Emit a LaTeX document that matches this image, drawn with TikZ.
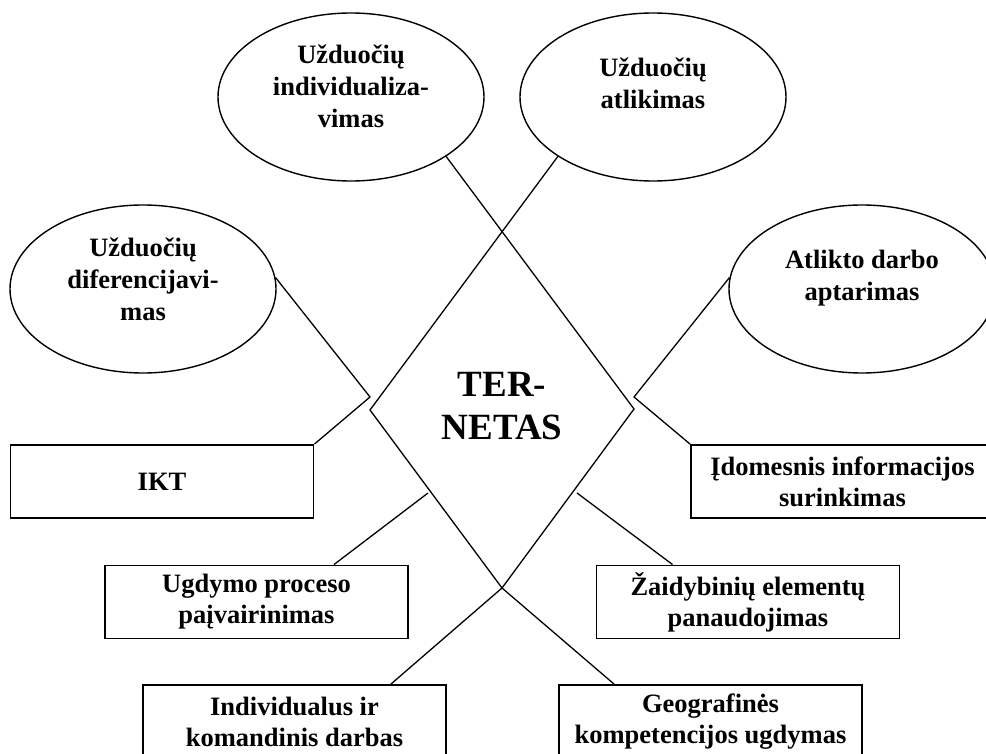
\documentclass[tikz,border=0pt]{standalone}
\usepackage{fontspec}
\setmainfont{Liberation Serif}
\usepackage{tikz}
\usetikzlibrary{shapes,positioning,calc}

\tikzset{
  bubble/.style={draw, ellipse, line width=1.4pt, minimum width=266pt, minimum height=168pt, inner sep=0pt},
  bubbletext/.style={align=center, inner sep=0pt, font=\fontsize{26.5}{32}\selectfont\bfseries},
  factbox/.style={draw, rectangle, line width=1.8pt, minimum width=303pt, minimum height=73pt, inner sep=0pt, align=center, font=\fontsize{26.5}{31}\selectfont\bfseries},
  link/.style={line width=1.3pt},
}

\begin{document}
\begin{tikzpicture}[x=1pt, y=-1pt]
    \clip (0,0) rectangle (986,754);
    % ovals
    \node[bubble] (ind) at (351,97) {};
    \node[bubble] (atl) at (653,97) {};
    \node[bubble] (dif) at (143,289) {};
    \node[bubble] (apt) at (862,289) {};
    \node[bubbletext] (indtxt) at (351,86) {Užduočių\\individualiza-\\vimas};
    \node[bubbletext] (atltxt) at (653,83) {Užduočių\\atlikimas};
    \node[bubbletext] (diftxt) at (143,279) {Užduočių\\diferencijavi-\\mas};
    \node[bubbletext] (apttxt) at (862,278) {Atlikto darbo\\aptarimas};
    % centre
    \node[inner sep=0pt, align=center, font=\fontsize{37}{43}\selectfont\bfseries] (tern) at (502,406) {TER-\\NETAS};
    % boxes
    \node[factbox] (ikt) at (162,481.5) {IKT};
    \node[factbox] (ugd) at (256.5,602) {Ugdymo proceso\\paįvairinimas};
    \node[factbox] (indiv) at (294.5,721.5) {Individualus ir\\komandinis darbas};
    \node[factbox] (idom) at (842.5,481.5) {Įdomesnis informacijos\\surinkimas};
    \node[factbox] (zai) at (748,602) {Žaidybinių elementų\\panaudojimas};
    \node[factbox] (geo) at (710.5,721.5) {Geografinės\\kompetencijos ugdymas};
    % corners of the rhomb
    \coordinate (lv) at (370,410);
    \coordinate (rv) at (634,409);
    \coordinate (bv) at (502,588);
    \coordinate (lk) at (370,397);
    \coordinate (rk) at (634,397);
    \coordinate (uk) at (428,493);
    \coordinate (zk) at (577,493);
    % lines
    \draw[link] (ind.-32) -- (rv) -- (bv) -- ([xshift=-56pt]indiv.north east);
    \draw[link] (atl.-148) -- (lv) -- (bv) -- ([xshift=56pt]geo.north west);
    \draw[link] (dif.5) -- (lk) -- (ikt.north east);
    \draw[link] (apt.175) -- (rk) -- (idom.north west);
    \draw[link] (uk) -- ([xshift=-75pt]ugd.north east);
    \draw[link] (zk) -- ([xshift=77pt]zai.north west);
\end{tikzpicture}
\end{document}
